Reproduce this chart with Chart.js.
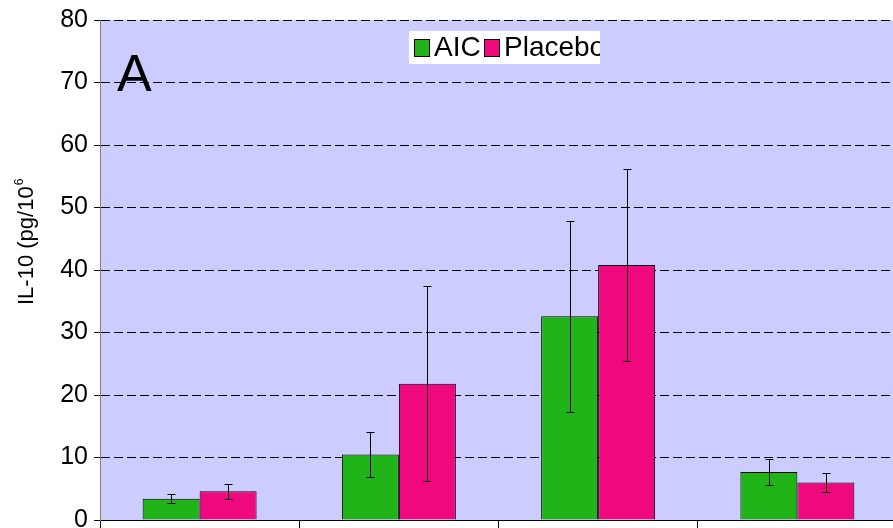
<!DOCTYPE html>
<html>
<head>
<meta charset="utf-8">
<script src="https://cdn.jsdelivr.net/npm/chart.js@4/dist/chart.umd.min.js"></script>
<style>
  html, body { margin: 0; padding: 0; background: #fff; overflow: hidden; }
  #wrap { position: relative; width: 900px; height: 528px; }
</style>
</head>
<body>
<div id="wrap"><canvas id="il10Chart"></canvas></div>
<script>
// data
const categories = ['T1', 'T2', 'T3', 'T4'];
const aicValues = [3.4, 10.5, 32.6, 7.7];
const aicErrors = [0.75, 3.6, 15.3, 2.1];
const placeboValues = [4.6, 21.8, 40.8, 6.0];
const placeboErrors = [1.2, 15.6, 15.3, 1.5];
const yTicks = [0, 10, 20, 30, 40, 50, 60, 70, 80];

const FONT = "'Liberation Sans', Arial, sans-serif";
const GREEN = '#20B418';
const PINK = '#F0087F';

// lavender plot background
const plotBackground = {
    id: 'plotBackground',
    beforeDraw(chart) {
        const { ctx, chartArea: a } = chart;
        ctx.save();
        ctx.fillStyle = '#CCCCFF';
        ctx.fillRect(a.left, a.top, a.right - a.left, a.bottom - a.top);
        ctx.restore();
    }
};

// error bars (value +/- error) on each bar
const errorBars = {
    id: 'errorBars',
    afterDatasetsDraw(chart) {
        const { ctx } = chart;
        const y = chart.scales.y;
        ctx.save();
        ctx.strokeStyle = '#000';
        ctx.lineWidth = 1;
        chart.data.datasets.forEach((ds, i) => {
            const meta = chart.getDatasetMeta(i);
            meta.data.forEach((bar, j) => {
                const v = ds.data[j];
                const e = ds.errors[j];
                const x = Math.round(bar.x) + 0.5;
                const top = Math.round(y.getPixelForValue(v + e)) + 0.5;
                const bottom = Math.round(y.getPixelForValue(v - e)) + 0.5;
                ctx.beginPath();
                ctx.moveTo(x, top);
                ctx.lineTo(x, bottom);
                ctx.moveTo(x - 4, top);
                ctx.lineTo(x + 4, top);
                ctx.moveTo(x - 4, bottom);
                ctx.lineTo(x + 4, bottom);
                ctx.stroke();
            });
        });
        ctx.restore();
    }
};

// panel letter, y title and the boxed legend
const decorations = {
    id: 'decorations',
    afterDraw(chart) {
        const { ctx } = chart;
        ctx.save();

        ctx.fillStyle = '#000';
        ctx.font = '52px ' + FONT;
        ctx.textBaseline = 'alphabetic';
        ctx.fillText('A', 117, 91);

        // rotated axis title
        ctx.save();
        ctx.translate(33, 305);
        ctx.rotate(-Math.PI / 2);
        ctx.font = '22px ' + FONT;
        const main = 'IL-10 (pg/10';
        ctx.fillText(main, 0, 0);
        const w = ctx.measureText(main).width;
        ctx.font = '12px ' + FONT;
        ctx.fillText('6', w + 1, -10);
        ctx.restore();

        // legend box, text clipped at its right edge
        const bx = 409, by = 31, bw = 191, bh = 33;
        ctx.fillStyle = '#fff';
        ctx.fillRect(bx, by, bw, bh);
        ctx.beginPath();
        ctx.rect(bx, by, bw, bh);
        ctx.clip();
        const items = [
            { label: chart.data.datasets[0].label, color: GREEN, x: 414 },
            { label: chart.data.datasets[1].label, color: PINK, x: 484 }
        ];
        ctx.font = '28px ' + FONT;
        items.forEach(it => {
            ctx.fillStyle = it.color;
            ctx.fillRect(it.x + 0.5, 39.5, 15, 17);
            ctx.strokeStyle = '#000';
            ctx.lineWidth = 1;
            ctx.strokeRect(it.x + 0.5, 39.5, 15, 17);
            ctx.fillStyle = '#000';
            ctx.fillText(it.label, it.x + 20, 56);
        });
        ctx.restore();
    }
};

new Chart(document.getElementById('il10Chart'), {
    type: 'bar',
    data: {
        labels: categories,
        datasets: [
            {
                label: 'AIC',
                data: aicValues,
                errors: aicErrors,
                backgroundColor: GREEN,
                borderColor: '#000',
                borderWidth: 1
            },
            {
                label: 'Placebo',
                data: placeboValues,
                errors: placeboErrors,
                backgroundColor: PINK,
                borderColor: '#000',
                borderWidth: 1
            }
        ]
    },
    options: {
        responsive: true,
        maintainAspectRatio: false,
        animation: false,
        layout: { padding: { top: 20, right: 3, left: 0, bottom: 0 } },
        datasets: {
            bar: { categoryPercentage: 0.572, barPercentage: 1.0 }
        },
        plugins: {
            legend: { display: false },
            tooltip: { enabled: false }
        },
        scales: {
            x: {
                grid: {
                    display: true,
                    offset: true,
                    drawOnChartArea: false,
                    drawTicks: true,
                    tickLength: 8,
                    tickColor: '#000'
                },
                border: { display: true, color: '#000', width: 1 },
                ticks: { display: false },
                afterFit(scale) {
                    scale.height = 8;
                    scale.paddingLeft = 0;
                    scale.paddingRight = 0;
                }
            },
            y: {
                min: 0,
                max: 80,
                afterBuildTicks(scale) {
                    scale.ticks = yTicks.map(v => ({ value: v }));
                },
                ticks: {
                    color: '#000',
                    padding: 6,
                    font: { family: FONT, size: 25 },
                    callback: v => v
                },
                grid: {
                    color: '#000',
                    lineWidth: 1,
                    tickLength: 6,
                    tickColor: '#000'
                },
                border: { display: true, color: '#808080', width: 1, dash: [9, 4] },
                afterFit(scale) {
                    scale.width = 100;
                    scale.paddingTop = 0;
                    scale.paddingBottom = 0;
                }
            }
        }
    },
    plugins: [plotBackground, errorBars, decorations]
});
</script>
</body>
</html>
